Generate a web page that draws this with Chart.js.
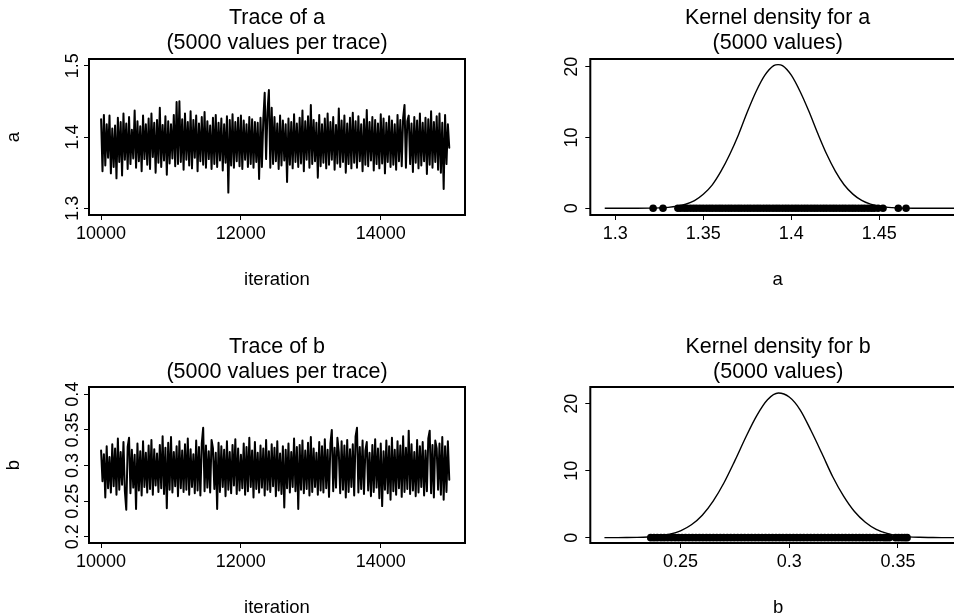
<!DOCTYPE html>
<html>
<head>
<meta charset="utf-8">
<script src="https://cdn.jsdelivr.net/npm/chart.js@4/dist/chart.umd.min.js"></script>
<style>
html,body{margin:0;padding:0;background:#fff;overflow:hidden;width:954px;height:615px;}
.p{position:absolute;}
</style>
</head>
<body>
<canvas id="c1" class="p" width="477" height="300" style="left:0;top:0"></canvas>
<canvas id="c2" class="p" width="500" height="300" style="left:477px;top:0"></canvas>
<canvas id="c3" class="p" width="477" height="320" style="left:0;top:300px"></canvas>
<canvas id="c4" class="p" width="500" height="320" style="left:477px;top:300px"></canvas>
<script>
// ---------- data ----------
// MCMC iterations 10001..15000, read every 20th iteration
const ITER_START = 10001;
const ITER_THIN = 20;

const traceA = [
1.425,1.352,1.431,1.360,1.418,1.371,1.430,1.349,1.412,1.358,
1.416,1.342,1.427,1.365,1.421,1.346,1.433,1.368,1.419,1.355,
1.428,1.362,1.410,1.370,1.437,1.357,1.422,1.366,1.415,1.352,
1.430,1.369,1.418,1.361,1.426,1.355,1.433,1.372,1.420,1.350,
1.424,1.364,1.441,1.358,1.417,1.367,1.429,1.347,1.422,1.363,
1.418,1.370,1.431,1.359,1.449,1.362,1.450,1.365,1.425,1.354,
1.433,1.368,1.421,1.360,1.436,1.356,1.424,1.371,1.430,1.352,
1.419,1.366,1.428,1.361,1.435,1.357,1.422,1.369,1.416,1.355,
1.427,1.362,1.431,1.358,1.420,1.367,1.426,1.353,1.418,1.364,
1.429,1.322,1.424,1.360,1.432,1.357,1.421,1.366,1.427,1.359,
1.430,1.355,1.423,1.368,1.418,1.358,1.428,1.362,1.425,1.357,
1.421,1.365,1.420,1.341,1.427,1.358,1.424,1.462,1.369,1.436,
1.466,1.357,1.441,1.362,1.428,1.366,1.419,1.355,1.430,1.360,
1.423,1.367,1.418,1.337,1.426,1.361,1.421,1.356,1.432,1.365,
1.419,1.358,1.427,1.363,1.437,1.352,1.422,1.368,1.429,1.357,
1.445,1.362,1.424,1.366,1.420,1.343,1.431,1.359,1.418,1.364,
1.426,1.356,1.433,1.361,1.421,1.368,1.428,1.354,1.417,1.363,
1.440,1.358,1.423,1.365,1.430,1.350,1.419,1.362,1.427,1.356,
1.434,1.364,1.422,1.357,1.429,1.366,1.418,1.352,1.425,1.361,
1.438,1.359,1.421,1.367,1.428,1.353,1.424,1.362,1.419,1.356,
1.432,1.363,1.426,1.349,1.420,1.365,1.429,1.358,1.423,1.361,
1.418,1.354,1.431,1.366,1.424,1.359,1.427,1.445,1.357,1.422,
1.430,1.362,1.419,1.351,1.428,1.364,1.423,1.356,1.433,1.360,
1.420,1.366,1.427,1.348,1.425,1.361,1.436,1.357,1.421,1.365,
1.429,1.354,1.433,1.350,1.420,1.327,1.431,1.362,1.418,1.385
];

const traceB = [
0.321,0.278,0.316,0.255,0.327,0.268,0.312,0.262,0.330,0.271,
0.324,0.259,0.338,0.266,0.319,0.273,0.333,0.264,0.238,0.326,
0.339,0.261,0.322,0.269,0.315,0.239,0.331,0.265,0.320,0.258,
0.334,0.270,0.318,0.262,0.328,0.267,0.336,0.259,0.323,0.272,
0.317,0.263,0.329,0.268,0.341,0.260,0.325,0.240,0.332,0.266,
0.340,0.262,0.319,0.271,0.327,0.257,0.334,0.268,0.321,0.263,
0.330,0.266,0.338,0.259,0.323,0.270,0.316,0.261,0.335,0.265,
0.326,0.258,0.331,0.353,0.264,0.328,0.269,0.320,0.262,0.336,
0.324,0.267,0.318,0.239,0.332,0.263,0.327,0.270,0.322,0.257,
0.334,0.266,0.319,0.261,0.329,0.272,0.337,0.260,0.324,0.265,
0.315,0.268,0.331,0.259,0.326,0.264,0.339,0.270,0.321,0.255,
0.333,0.267,0.318,0.262,0.328,0.269,0.324,0.258,0.336,0.266,
0.320,0.263,0.330,0.271,0.325,0.257,0.334,0.265,0.317,0.260,
0.327,0.241,0.322,0.268,0.331,0.262,0.319,0.270,0.338,0.264,
0.326,0.239,0.329,0.266,0.335,0.261,0.321,0.267,0.332,0.258,
0.340,0.263,0.324,0.270,0.318,0.259,0.333,0.265,0.327,0.262,
0.337,0.268,0.322,0.256,0.331,0.350,0.264,0.325,0.269,0.339,
0.319,0.261,0.334,0.266,0.328,0.255,0.336,0.263,0.323,0.270,
0.330,0.258,0.341,0.353,0.262,0.326,0.267,0.335,0.260,0.321,
0.333,0.265,0.318,0.257,0.329,0.263,0.337,0.269,0.324,0.254,
0.331,0.243,0.320,0.266,0.335,0.261,0.327,0.252,0.339,0.264,
0.322,0.259,0.334,0.268,0.328,0.256,0.341,0.263,0.325,0.267,
0.349,0.260,0.330,0.265,0.319,0.257,0.336,0.262,0.327,0.270,
0.333,0.258,0.321,0.264,0.338,0.349,0.261,0.329,0.255,0.335,
0.324,0.266,0.331,0.259,0.340,0.252,0.327,0.263,0.334,0.280
];

// kernel density curves (x grid, density)
const densAX = [1.294,1.300,1.310,1.320,1.325,1.330,1.335,1.340,1.345,1.350,1.355,1.360,1.365,1.370,1.375,1.380,1.385,1.390,1.3925,1.395,1.400,1.405,1.410,1.415,1.420,1.425,1.430,1.435,1.440,1.445,1.450,1.455,1.460,1.470,1.480,1.490,1.500];
const densAY = [0,0,0.003,0.02,0.06,0.13,0.28,0.57,1.08,1.97,3.27,5.2,7.6,10.4,13.6,16.5,18.8,20.15,20.3,20.15,18.8,16.5,13.7,10.6,7.7,5.25,3.32,2.0,1.11,0.59,0.29,0.13,0.06,0.01,0,0,0];
const densBX = [0.215,0.220,0.225,0.230,0.235,0.240,0.245,0.250,0.255,0.260,0.265,0.270,0.275,0.280,0.285,0.290,0.295,0.300,0.305,0.310,0.315,0.320,0.325,0.330,0.335,0.340,0.345,0.350,0.355,0.360,0.365,0.370,0.375,0.380];
const densBY = [0,0.005,0.015,0.04,0.10,0.23,0.51,1.02,1.92,3.35,5.46,8.2,11.5,15.0,18.2,20.6,21.6,21.0,19.1,16.0,12.6,9.1,6.2,3.9,2.3,1.24,0.63,0.29,0.12,0.05,0.02,0,0,0];

// rug of sampled values along the x axis
const rugA = [1.3215,1.3271,1.3356,1.3372,1.3391,1.3408,1.3427,1.3445,1.3462,1.3481,1.3499,1.3518,1.3536,1.3553,1.3572,1.3590,1.3607,1.3626,1.3644,1.3661,1.3680,1.3698,1.3715,1.3734,1.3752,1.3769,1.3788,1.3806,1.3823,1.3842,1.3860,1.3877,1.3896,1.3914,1.3931,1.3950,1.3968,1.3985,1.4004,1.4022,1.4039,1.4058,1.4076,1.4093,1.4112,1.4130,1.4147,1.4166,1.4184,1.4201,1.4220,1.4238,1.4255,1.4274,1.4292,1.4309,1.4328,1.4346,1.4363,1.4382,1.4400,1.4417,1.4436,1.4454,1.4471,1.4493,1.4521,1.4608,1.4652];
const rugB = [0.2363,0.2378,0.2393,0.2410,0.2425,0.2441,0.2458,0.2475,0.2491,0.2507,0.2523,0.2539,0.2555,0.2571,0.2587,0.2603,0.2619,0.2635,0.2651,0.2667,0.2683,0.2699,0.2715,0.2731,0.2747,0.2763,0.2779,0.2795,0.2811,0.2827,0.2843,0.2859,0.2875,0.2891,0.2907,0.2923,0.2939,0.2955,0.2971,0.2987,0.3003,0.3019,0.3035,0.3051,0.3067,0.3083,0.3099,0.3115,0.3131,0.3147,0.3163,0.3179,0.3195,0.3211,0.3227,0.3243,0.3259,0.3275,0.3291,0.3307,0.3323,0.3339,0.3355,0.3371,0.3387,0.3403,0.3419,0.3435,0.3447,0.3460,0.3489,0.3503,0.3518,0.3531,0.3542];

// tick values and labels
const iterTicks = [10000, 12000, 14000];
const iterTickLabels = ['10000', '12000', '14000'];
const aTraceTicks = [1.3, 1.4, 1.5];
const aTraceTickLabels = ['1.3', '1.4', '1.5'];
const bTraceTicks = [0.2, 0.25, 0.3, 0.35, 0.4];
const bTraceTickLabels = ['0.2', '0.25', '0.3', '0.35', '0.4'];
const densTicks = [0, 10, 20];
const densTickLabels = ['0', '10', '20'];
const aDensXTicks = [1.3, 1.35, 1.4, 1.45];
const aDensXTickLabels = ['1.3', '1.35', '1.4', '1.45'];
const bDensXTicks = [0.25, 0.3, 0.35];
const bDensXTickLabels = ['0.25', '0.3', '0.35'];

// ---------- rendering ----------
const FONT = '"Liberation Sans", Arial, Helvetica, sans-serif';
Chart.defaults.font.family = FONT;
Chart.defaults.color = '#000';

const rPlot = {
  id: 'rPlot',
  afterDraw(chart, args, o) {
    const ctx = chart.ctx, a = chart.chartArea, ys = chart.scales.y;
    ctx.save();
    ctx.strokeStyle = '#000';
    ctx.lineWidth = 2;
    ctx.strokeRect(a.left, a.top, a.right - a.left, a.bottom - a.top);
    ctx.fillStyle = '#000';
    ctx.font = '18px ' + FONT;
    ctx.textAlign = 'center';
    ctx.textBaseline = 'alphabetic';
    o.yTicks.forEach((v, i) => {
      const py = ys.getPixelForValue(v);
      ctx.save();
      ctx.translate(a.left - o.gap, py);
      ctx.rotate(-Math.PI / 2);
      ctx.fillText(o.yLabels[i], 0, 0);
      ctx.restore();
    });
    ctx.restore();
  }
};

function traceData(vals) {
  return vals.map((v, i) => ({x: ITER_START + i * ITER_THIN, y: v}));
}
function xyData(xs, ys) { return xs.map((x, i) => ({x: x, y: ys[i]})); }
function rugData(xs) { return xs.map(x => ({x: x, y: 0})); }

function makePanel(id, cfg) {
  const tickGrid = {display: true, drawOnChartArea: false, drawTicks: true, tickLength: 5, tickColor: '#000', tickWidth: 1};
  new Chart(document.getElementById(id), {
    type: 'line',
    data: {datasets: cfg.datasets},
    plugins: [rPlot],
    options: {
      responsive: false,
      devicePixelRatio: 1,
      animation: false,
      events: [],
      layout: {padding: cfg.pad},
      plugins: {
        legend: {display: false},
        tooltip: {enabled: false},
        title: {
          display: true, fullSize: false, text: cfg.title, color: '#000',
          font: {size: 21.5, weight: 'normal', lineHeight: 25 / 21.5},
          padding: {top: 0, bottom: cfg.titleGap}
        },
        rPlot: {yTicks: cfg.yTicks, yLabels: cfg.yLabels, gap: cfg.labelGap}
      },
      scales: {
        x: {
          type: 'linear', min: cfg.xMin, max: cfg.xMax,
          afterFit: s => { s.height = cfg.xH; },
          afterBuildTicks: s => { s.ticks = cfg.xTicks.map(v => ({value: v})); },
          ticks: {autoSkip: false, maxRotation: 0, padding: cfg.tickPad, font: {size: 18},
                  callback: (v, i) => cfg.xLabels[i]},
          grid: tickGrid,
          border: {display: false},
          title: {display: true, text: cfg.xTitle, font: {size: 18.5}, padding: {top: 0, bottom: cfg.xTitlePad}}
        },
        y: {
          type: 'linear', min: cfg.yMin, max: cfg.yMax,
          afterFit: s => { s.width = cfg.yW; },
          afterBuildTicks: s => { s.ticks = cfg.yTicks.map(v => ({value: v})); },
          ticks: {display: false},
          grid: tickGrid,
          border: {display: false},
          title: {display: !!cfg.yTitle, text: cfg.yTitle || '', font: {size: 18.5}, padding: {top: 2.5, bottom: 0}}
        }
      }
    }
  });
}

const traceStyle = {borderColor: '#000', borderWidth: 2.0, pointRadius: 0, fill: false, tension: 0, borderJoinStyle: 'round', borderCapStyle: 'round'};
const densStyle = {borderColor: '#000', borderWidth: 1.4, pointRadius: 0, fill: false, cubicInterpolationMode: 'monotone'};
const rugStyle = {showLine: false, pointRadius: 3.8, pointBorderWidth: 0, pointBackgroundColor: '#000', borderColor: '#000'};

makePanel('c1', {
  datasets: [Object.assign({data: traceData(traceA)}, traceStyle)],
  title: ['Trace of a', '(5000 values per trace)'], titleGap: 3.2,
  pad: {top: 5.8, left: 0, right: 12, bottom: 0},
  xMin: 9828, xMax: 15206, xTicks: iterTicks, xLabels: iterTickLabels, xH: 85, tickPad: 3,
  xTitle: 'iteration', xTitlePad: 9.3,
  yMin: 1.2906, yMax: 1.5094, yTicks: aTraceTicks, yLabels: aTraceTickLabels, yW: 89, yTitle: 'a', labelGap: 10.7
});

makePanel('c2', {
  datasets: [Object.assign({data: xyData(densAX, densAY)}, densStyle), Object.assign({data: rugData(rugA)}, rugStyle)],
  title: ['Kernel density for a', '(5000 values)'], titleGap: 3.2,
  pad: {top: 5.8, left: 0, right: 12, bottom: 0},
  xMin: 1.2858, xMax: 1.4987, xTicks: aDensXTicks, xLabels: aDensXTickLabels, xH: 85, tickPad: 3,
  xTitle: 'a', xTitlePad: 9.3,
  yMin: -0.95, yMax: 21.09, yTicks: densTicks, yLabels: densTickLabels, yW: 113.3, yTitle: '', labelGap: 13.3
});

makePanel('c3', {
  datasets: [Object.assign({data: traceData(traceB)}, traceStyle)],
  title: ['Trace of b', '(5000 values per trace)'], titleGap: 2.45,
  pad: {top: 34.55, left: 0, right: 12, bottom: 0},
  xMin: 9828, xMax: 15206, xTicks: iterTicks, xLabels: iterTickLabels, xH: 77, tickPad: 3.3,
  xTitle: 'iteration', xTitlePad: 1.3,
  yMin: 0.1912, yMax: 0.4103, yTicks: bTraceTicks, yLabels: bTraceTickLabels, yW: 89, yTitle: 'b', labelGap: 11.5
});

makePanel('c4', {
  datasets: [Object.assign({data: xyData(densBX, densBY)}, densStyle), Object.assign({data: rugData(rugB)}, rugStyle)],
  title: ['Kernel density for b', '(5000 values)'], titleGap: 2.45,
  pad: {top: 34.55, left: 0, right: 11, bottom: 0},
  xMin: 0.2085, xMax: 0.3813, xTicks: bDensXTicks, xLabels: bDensXTickLabels, xH: 77, tickPad: 3.3,
  xTitle: 'b', xTitlePad: 1.3,
  yMin: -0.8, yMax: 22.5, yTicks: densTicks, yLabels: densTickLabels, yW: 113.3, yTitle: '', labelGap: 13.3
});
</script>
</body>
</html>
